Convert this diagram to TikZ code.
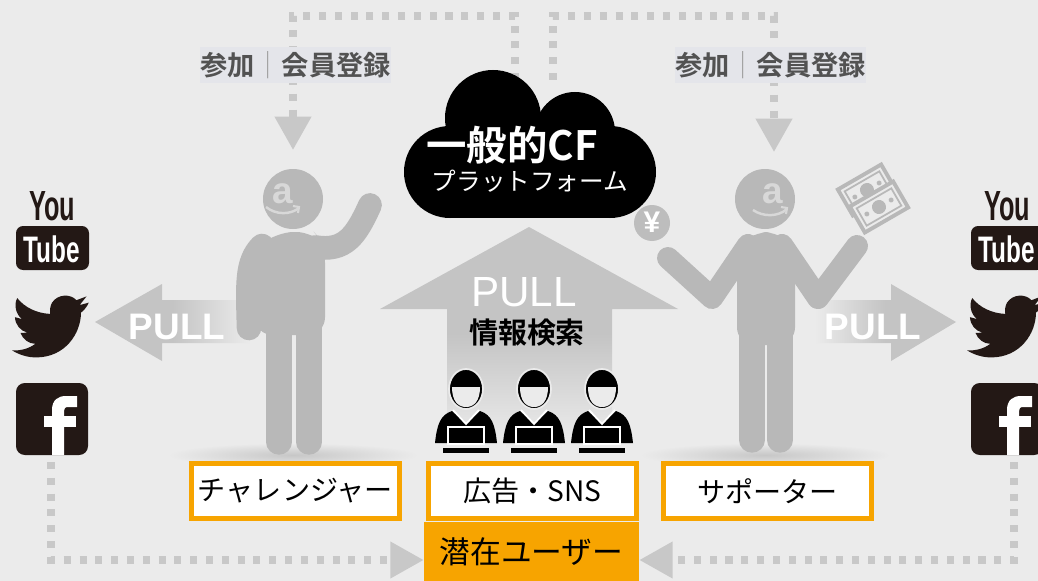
\documentclass[tikz,border=0pt]{standalone}
\usepackage{fontspec}
\setmainfont{Noto Sans CJK JP}[BoldFont={Noto Sans CJK JP Bold}]
\newfontfamily\latinsf{Liberation Sans}
\usetikzlibrary{arrows.meta}
\definecolor{bgc}{HTML}{EBEBEB}
\definecolor{dotgray}{HTML}{C8C8C8}
\definecolor{pullgray}{HTML}{C4C4C4}
\definecolor{mangray}{HTML}{B8B8B8}
\definecolor{coingray}{HTML}{BDBDBD}
\definecolor{logogray}{HTML}{D8D8D8}
\definecolor{cforange}{HTML}{F7A400}
\definecolor{iconblack}{HTML}{231815}
\definecolor{lblgray}{HTML}{525252}
\definecolor{lblbg}{HTML}{E4E5EA}
\tikzset{
  dots/.style={dotgray, line width=4pt, dash pattern=on 4pt off 5pt,
    -{Triangle[width=20pt,length=19pt]}},
  lbl/.style={fill=lblbg, text=lblgray, inner sep=0pt, minimum width=3.62cm,
    minimum height=0.72cm, font=\bfseries\fontsize{15.5}{16}\selectfont},
  role/.style={draw=cforange, line width=2.8pt, fill=white, text=black,
    minimum width=4.16cm, minimum height=1.1cm, font=\fontsize{16}{16}\selectfont},
  pull/.style={text=white, font=\latinsf\bfseries\fontsize{21}{21}\selectfont},
  limb/.style={mangray, line cap=round, line join=round}
}
\begin{document}
\begin{tikzpicture}[x=0.02cm, y=-0.02cm]
  \clip (0,0) rectangle (1038,581);
  \fill[bgc] (0,0) rectangle (1038,581);
  \shade[inner color=black!22, outer color=bgc] (293,455) ellipse (125 and 12);
  \shade[inner color=black!22, outer color=bgc] (765,455) ellipse (125 and 12);

  \shade[top color=pullgray, bottom color=bgc, middle color=pullgray]
    (529,227) -- (678,309) -- (612,309) -- (612,440) -- (447,440) -- (447,309) -- (380,309) -- cycle;
  \shade[left color=pullgray, right color=bgc, middle color=pullgray]
    (95,322) -- (162,284) -- (162,300) -- (250,300) -- (250,343) -- (162,343) -- (162,361) -- cycle;
  \shade[left color=bgc, right color=pullgray, middle color=pullgray]
    (956,322) -- (891,284) -- (891,300) -- (815,300) -- (815,343) -- (891,343) -- (891,361) -- cycle;
  \node (pullup) at (524,292) [text=white, font=\latinsf\fontsize{24}{24}\selectfont] {PULL};
  \node (search) at (527,333) [font=\bfseries\fontsize{16.5}{17}\selectfont] {情報検索};
  \node (pullleft) at (177,327) [pull] {PULL};
  \node (pullright) at (873,327) [pull] {PULL};

  \coordinate (cl) at (515,80);
  \coordinate (cr) at (553,80);
  \coordinate (lin) at (293,150);
  \coordinate (rin) at (774,152);
  \draw[dots] (cl) -- ++(0,-64) -| (lin);
  \draw[dots] (cr) -- ++(0,-64) -| (rin);
  \node (joinl) at (295.5,65) [lbl] {参加\textcolor{lblgray!55}{\mdseries ｜}会員登録};
  \node (joinr) at (770.5,65) [lbl] {参加\textcolor{lblgray!55}{\mdseries ｜}会員登録};

  \foreach \cx/\cy/\r in {450/172/46, 610/172/46, 493/118/48, 575/132/40}
    \fill[black] (\cx,\cy) circle (\r);
  \fill[black] (450,126) rectangle (610,218);
  \node (cftitle) at (512,145) [text=white, font=\bfseries\fontsize{23}{24}\selectfont] {一般的CF};
  \node (cfsub) at (530,181) [text=white, font=\fontsize{14}{15}\selectfont] {プラットフォーム};

  \fill[mangray] (293,199) circle (30);
  \fill[mangray, rounded corners=10pt] (255,335) -- (255,250) -- (276,232) -- (314,232) -- (325,245) -- (325,335) -- cycle;
  \draw[limb, line width=14pt] (262,246) .. controls (246,262) and (248,285) .. (249,328);
  \draw[limb, line width=13.5pt] (315,247) .. controls (345,252) and (356,236) .. (370,205);
  \draw[limb, line width=14.5pt] (279,320) -- (279,442);
  \draw[limb, line width=14.5pt] (309,320) -- (309,442);
  \node at (283,194) [text=logogray, font=\latinsf\bfseries\fontsize{21}{21}\selectfont] {a};
  \draw[logogray, line width=1.4pt] (266,207) .. controls (276,215) and (290,215) .. (299,208);
  \draw[logogray, line width=1.2pt] (293,206) -- (299,207) -- (298,213);

  \fill[mangray] (765,199) circle (30);
  \fill[mangray, rounded corners=10pt] (737,345) -- (737,246) -- (752,232) -- (780,232) -- (795,246) -- (795,345) -- cycle;
  \draw[limb, line width=12.5pt] (748,245) -- (712,298) -- (668,258);
  \draw[limb, line width=12.5pt] (782,245) -- (818,298) -- (857,246);
  \draw[limb, line width=14.5pt] (752,330) -- (752,440);
  \draw[limb, line width=14.5pt] (780,330) -- (780,440);
  \node at (773,194) [text=logogray, font=\latinsf\bfseries\fontsize{21}{21}\selectfont] {a};
  \draw[logogray, line width=1.4pt] (753,210) .. controls (763,217) and (778,217) .. (787,209);
  \draw[logogray, line width=1.2pt] (781,207) -- (787,208) -- (786,214);
  \fill[coingray] (652,223) circle (18);
  \node (yen) at (652,222) [text=white, font=\latinsf\bfseries\fontsize{17}{17}\selectfont] {¥};
  \foreach \bx/\by in {867/190, 879/207} {
    \begin{scope}[shift={(\bx,\by)}, rotate=30]
      \filldraw[fill=bgc, draw=mangray, line width=2.2pt] (-25,-15) rectangle (25,15);
      \draw[mangray, line width=1pt] (-20,-10) rectangle (20,10);
      \fill[mangray] (0,0) circle (7) (-14,0) circle (2.5) (14,0) circle (2.5);
    \end{scope}
  }

  \foreach \cx in {466,534,602} {
    \fill[black] (\cx-31,443) .. controls (\cx-29,425) and (\cx-26,415) .. (\cx-14,411)
      -- (\cx,424) -- (\cx+14,411) .. controls (\cx+26,415) and (\cx+29,425) .. (\cx+31,443) -- cycle;
    \draw[white, line width=1pt] (\cx-13,410) -- (\cx,424) -- (\cx+13,410);
    \filldraw[fill=black, draw=bgc, line width=1pt] (\cx,389) ellipse (17 and 20);
    \fill[bgc] (\cx-14,387) .. controls (\cx-14,401) and (\cx-8,407) .. (\cx,407)
      .. controls (\cx+8,407) and (\cx+14,401) .. (\cx+14,387) -- cycle;
    \filldraw[fill=black, draw=white, line width=1.2pt] (\cx-18,427) rectangle (\cx+18,444);
    \fill[black] (\cx-23,448) rectangle (\cx+23,453);
  }

  \node (chal) at (295.5,491) [role] {チャレンジャー};
  \node (user) at (531.5,552) [fill=cforange, minimum width=4.3cm, minimum height=1.2cm,
    font=\fontsize{17.5}{18}\selectfont] {潜在ユーザー};
  \node (ad) at (532.5,491) [role] {広告・SNS};
  \node (sup) at (767.5,491) [role] {サポーター};

  \foreach \ox in {0,955} {
    \begin{scope}[shift={(\ox,0)}]
      \node at (52,206) [text=iconblack, xscale=0.6, font=\latinsf\bfseries\fontsize{24}{24}\selectfont] {You};
      \fill[iconblack, rounded corners=4pt] (16,226) rectangle (89,270);
      \node at (52,249) [text=white, xscale=0.66, font=\latinsf\bfseries\fontsize{21}{21}\selectfont] {Tube};
      \fill[iconblack, shift={(12,288)}, scale=3.2] (24,4.57) -- (21.13,5.35) -- (23.29,2.62) -- (20.16,3.81)
        .. controls (18.2,1.7) and (14.2,1.9) .. (12.5,4.6)
        .. controls (11.9,5.6) and (11.8,7) .. (11.96,8.1)
        .. controls (7.7,7.9) and (4,6.1) .. (1.64,3.16)
        .. controls (0.5,5.2) and (1.2,8.3) .. (3.16,9.73)
        -- (0.93,9.12)
        .. controls (1,11.5) and (2.7,13.5) .. (4.88,13.95)
        -- (2.67,14.03)
        .. controls (3.3,16) and (5.2,17.4) .. (7.27,17.45)
        .. controls (5.4,18.9) and (2.6,19.7) .. (0,19.48)
        .. controls (2.3,20.9) and (4.9,21.7) .. (7.56,21.69)
        .. controls (16.6,21.69) and (21.55,14.2) .. (21.55,7.7)
        .. controls (22.5,7) and (23.4,5.9) .. (24,4.57) -- cycle;
      \fill[iconblack, rounded corners=5pt] (16,383) rectangle (88,455);
      \fill[white] (52,455) -- (52,410) .. controls (52,400) and (58,396) .. (66,396) -- (77,396)
        -- (77,407) -- (69,407) .. controls (65,407) and (64,408) .. (64,411) -- (64,455) -- cycle;
      \fill[white] (44,416) rectangle (76,427);
    \end{scope}
  }
  \coordinate (fbl) at (51,462);
  \coordinate (fbr) at (1014,462);
  \draw[dots] (fbl) |- ([yshift=-0.16cm]user.west);
  \draw[dots] (fbr) |- ([yshift=-0.16cm]user.east);
\end{tikzpicture}
\end{document}
